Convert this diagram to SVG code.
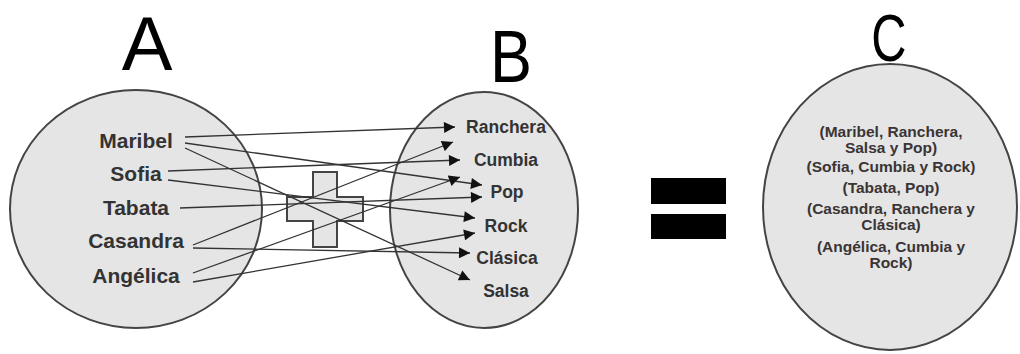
<svg xmlns="http://www.w3.org/2000/svg" width="1020" height="354" viewBox="0 0 1020 354">
<style>
.set{fill:#e5e5e5;stroke:#444;stroke-width:2}
.big{font-family:"Liberation Sans",Arial,sans-serif;font-weight:normal;fill:#000;text-anchor:middle}
.nm{font-family:"Liberation Sans",Arial,sans-serif;font-weight:bold;font-size:21px;fill:#333;text-anchor:middle}
.gn{font-family:"Liberation Sans",Arial,sans-serif;font-weight:bold;font-size:17.5px;fill:#333;text-anchor:middle}
.pr{font-family:"Liberation Sans",Arial,sans-serif;font-weight:bold;font-size:15.5px;fill:#3a3434;text-anchor:middle}
.ln{stroke:#333;stroke-width:1.3;fill:none;marker-end:url(#arr)}
</style>
<defs>
<marker id="arr" viewBox="0 0 10 10" refX="10" refY="5" markerWidth="12" markerHeight="11" markerUnits="userSpaceOnUse" orient="auto">
<path d="M0,0 L10,5 L0,10 z" fill="#111"/>
</marker>
</defs>
<rect width="1020" height="354" fill="#fff"/>

<g id="setA">
<ellipse class="set" cx="136" cy="209" rx="126" ry="119"/>
<text class="big" x="147" y="70" font-size="76">A</text>
<text class="nm" x="136" y="148">Maribel</text>
<text class="nm" x="136" y="181">Sofia</text>
<text class="nm" x="136" y="215">Tabata</text>
<text class="nm" x="136" y="248">Casandra</text>
<text class="nm" x="136" y="283">Angélica</text>
</g>

<g id="setB">
<ellipse class="set" cx="484" cy="210" rx="94" ry="118"/>
<text class="big" transform="translate(511,82) scale(0.84,1)" x="0" y="0" font-size="75">B</text>
<text class="gn" x="506" y="133">Ranchera</text>
<text class="gn" x="506" y="166">Cumbia</text>
<text class="gn" x="507" y="198">Pop</text>
<text class="gn" x="506" y="232">Rock</text>
<text class="gn" x="507" y="264">Clásica</text>
<text class="gn" x="506" y="297">Salsa</text>
</g>

<g id="plus">
<path d="M313,172 H337 V197 H363 V221 H337 V247 H313 V221 H287 V197 H313 Z" fill="#e5e5e5" stroke="#444" stroke-width="2"/>
</g>

<g id="equals">
<rect x="651" y="178" width="75" height="26" fill="#000"/>
<rect x="651" y="214" width="75" height="25" fill="#000"/>
</g>

<g id="setC">
<ellipse class="set" cx="890" cy="207" rx="127" ry="143"/>
<text class="big" transform="translate(889,61) scale(0.74,1)" x="0" y="0" font-size="66">C</text>
<text class="pr" x="891" y="137">(Maribel, Ranchera,</text>
<text class="pr" x="891" y="153">Salsa y Pop)</text>
<text class="pr" x="891" y="172">(Sofia, Cumbia y Rock)</text>
<text class="pr" x="891" y="193">(Tabata, Pop)</text>
<text class="pr" x="891" y="214">(Casandra, Ranchera y</text>
<text class="pr" x="891" y="230">Clásica)</text>
<text class="pr" x="891" y="252">(Angélica, Cumbia y</text>
<text class="pr" x="891" y="268">Rock)</text>
</g>

<g id="connectors">
<line class="ln" x1="185" y1="137" x2="455" y2="127"/>
<line class="ln" x1="185" y1="143" x2="482" y2="185"/>
<line class="ln" x1="185" y1="148" x2="470" y2="280"/>
<line class="ln" x1="168" y1="171" x2="460" y2="160"/>
<line class="ln" x1="168" y1="180" x2="475" y2="218"/>
<line class="ln" x1="180" y1="208" x2="482" y2="197"/>
<line class="ln" x1="193" y1="245" x2="453" y2="142"/>
<line class="ln" x1="193" y1="248" x2="470" y2="253"/>
<line class="ln" x1="193" y1="273" x2="460" y2="177"/>
<line class="ln" x1="193" y1="282" x2="475" y2="233"/>
</g>
</svg>
